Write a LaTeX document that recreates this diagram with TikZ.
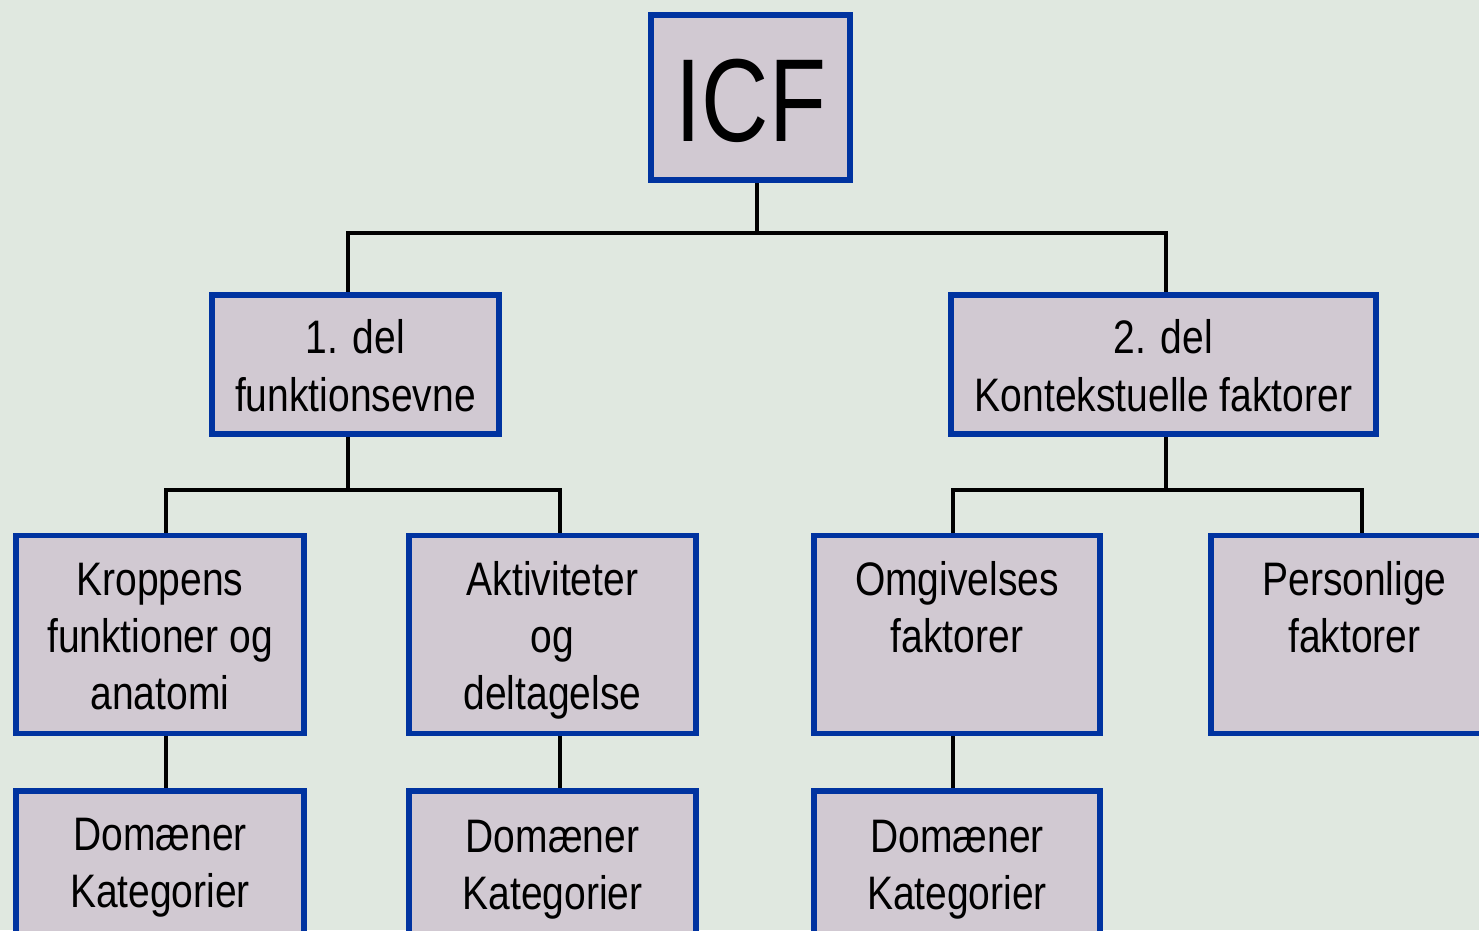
\documentclass[tikz,border=0pt]{standalone}
\usepackage{fontspec}
\setmainfont{Liberation Sans}[FakeStretch=0.83]
\newfontfamily\icffont{Liberation Sans}[FakeStretch=0.79]
\definecolor{bgcol}{RGB}{224,232,224}
\definecolor{boxfill}{RGB}{209,201,210}
\definecolor{icfblue}{RGB}{0,51,160}
\pgfdeclarelayer{back}
\pgfdeclarelayer{conn}
\pgfsetlayers{back,conn,main}
\tikzset{
  box/.style={draw=icfblue, line width=5.5pt, fill=boxfill, inner sep=0pt, outer sep=0pt, anchor=north west},
  lbl/.style={font=\fontsize{47}{57}\selectfont, anchor=base, inner sep=0pt, text=black},
  bigl/.style={font=\icffont\fontsize{118}{130}\selectfont, anchor=base, inner sep=0pt, text=black},
  conline/.style={draw=black, line width=3.5pt, line join=miter}
}
\begin{document}
\begin{tikzpicture}[x=1pt,y=-1pt]
\useasboundingbox (0,0) rectangle (1479,930);
\begin{pgfonlayer}{back}
\fill[bgcol] (0,0) rectangle (1479,930);
\end{pgfonlayer}
\clip (0,0) rectangle (1479,930);
% boxes
\node[box, minimum width=199pt, minimum height=165pt] (icf) at (651,15) {};
\node[box, minimum width=287pt, minimum height=139pt] (del1) at (212,295) {};
\node[box, minimum width=425pt, minimum height=139pt] (del2) at (951,295) {};
\node[box, minimum width=288pt, minimum height=198pt] (b3) at (16,535.5) {};
\node[box, minimum width=287pt, minimum height=198pt] (b4) at (409,535.5) {};
\node[box, minimum width=286pt, minimum height=198pt] (b5) at (814,535.5) {};
\node[box, minimum width=289pt, minimum height=198pt] (b6) at (1211,535.5) {};
\node[box, minimum width=288pt, minimum height=200pt] (b7) at (16,791) {};
\node[box, minimum width=287pt, minimum height=200pt] (b8) at (409,791) {};
\node[box, minimum width=286pt, minimum height=200pt] (b9) at (814,791) {};
% texts
\node[bigl] (ticf) at (751,141.7) {ICF};
\node[lbl] (t1a) at (355.5,353) {1. del};
\node[lbl] (t1b) at (355.5,411) {funktionsevne};
\node[lbl] (t2a) at (1163.5,353) {2. del};
\node[lbl] (t2b) at (1163.5,411) {Kontekstuelle faktorer};
\node[lbl] (t3a) at (160,595) {Kroppens};
\node[lbl] (t3b) at (160,652) {funktioner og};
\node[lbl] (t3c) at (160,709) {anatomi};
\node[lbl] (t4a) at (552.5,595) {Aktiviteter};
\node[lbl] (t4b) at (552.5,652) {og};
\node[lbl] (t4c) at (552.5,709) {deltagelse};
\node[lbl] (t5a) at (957,595) {Omgivelses};
\node[lbl] (t5b) at (957,652) {faktorer};
\node[lbl] (t6a) at (1354.5,595) {Personlige};
\node[lbl] (t6b) at (1354.5,652) {faktorer};
\node[lbl] (t7a) at (160,850) {Domæner};
\node[lbl] (t7b) at (160,907) {Kategorier};
\node[lbl] (t8a) at (552.5,852) {Domæner};
\node[lbl] (t8b) at (552.5,909) {Kategorier};
\node[lbl] (t9a) at (957,852) {Domæner};
\node[lbl] (t9b) at (957,909) {Kategorier};
% junctions
\coordinate (j0) at (757,233);
\coordinate (j1) at (348,233);
\coordinate (j2) at (1166,233);
\coordinate (k1) at (348,490);
\coordinate (k1a) at (166,490);
\coordinate (k1b) at (560,490);
\coordinate (k2) at (1166,490);
\coordinate (k2a) at (953,490);
\coordinate (k2b) at (1362,490);
\begin{pgfonlayer}{conn}
\draw[conline] (j0 |- icf.south) -- (j0);
\draw[conline] (j1 |- del1.north) -- (j1) -- (j2) -- (j2 |- del2.north);
\draw[conline] (k1 |- del1.south) -- (k1);
\draw[conline] (k1a |- b3.north) -- (k1a) -- (k1b) -- (k1b |- b4.north);
\draw[conline] (k2 |- del2.south) -- (k2);
\draw[conline] (k2a |- b5.north) -- (k2a) -- (k2b) -- (k2b |- b6.north);
\draw[conline] (k1a |- b3.south) -- (k1a |- b7.north);
\draw[conline] (k1b |- b4.south) -- (k1b |- b8.north);
\draw[conline] (k2a |- b5.south) -- (k2a |- b9.north);
\end{pgfonlayer}
\end{tikzpicture}
\end{document}
